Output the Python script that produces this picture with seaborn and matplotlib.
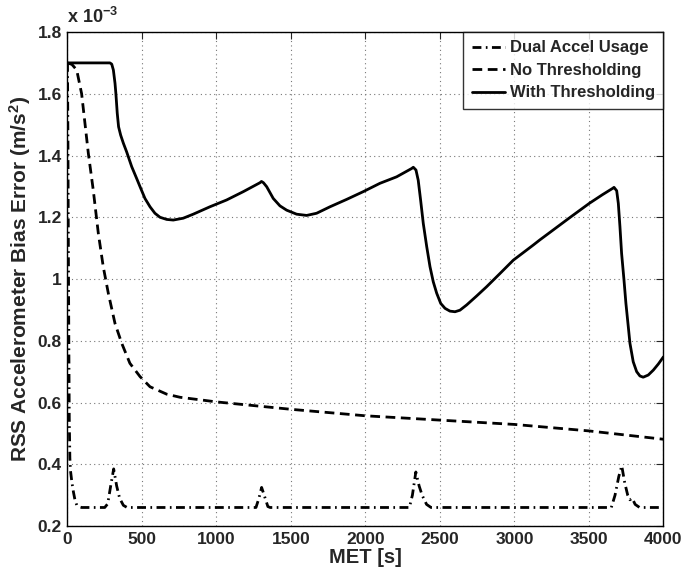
import matplotlib
matplotlib.use("Agg")
import matplotlib.pyplot as plt
import seaborn as sns

# ---- data (values in units of 1e-3 m/s^2) ----
t_dual = [0, 3, 6, 9, 12, 16, 20, 30, 40, 50, 62, 80, 95, 250, 270, 290, 310, 330, 350, 375, 400,
          1265, 1285, 1303, 1320, 1345, 1360,
          2295, 2315, 2338, 2360, 2380, 2410, 2440,
          3650, 3675, 3700, 3720, 3740, 3760, 3775, 3790, 3810, 3840, 4000]
v_dual = [1.70, 1.45, 1.10, 0.80, 0.55, 0.42, 0.38, 0.34, 0.31, 0.285, 0.268, 0.262, 0.26, 0.26, 0.272, 0.33, 0.385, 0.33, 0.29, 0.267, 0.26,
          0.26, 0.29, 0.325, 0.30, 0.263, 0.26,
          0.26, 0.30, 0.375, 0.33, 0.30, 0.27, 0.26,
          0.26, 0.30, 0.36, 0.395, 0.34, 0.30, 0.285, 0.29, 0.27, 0.26, 0.26]

t_noth = [0, 30, 62, 95, 140, 173, 207, 240, 274, 319, 364, 419, 487, 554, 666, 755,
          1000, 1500, 2000, 2500, 3000, 3500, 4000]
v_noth = [1.70, 1.695, 1.677, 1.60, 1.407, 1.288, 1.148, 1.04, 0.954, 0.856, 0.792, 0.727, 0.684, 0.651, 0.627, 0.617,
          0.602, 0.578, 0.557, 0.543, 0.529, 0.508, 0.481]

t_with = [0, 285, 297, 308, 319, 325, 334, 343, 357, 375, 397, 431, 464, 487, 520, 554, 587, 621, 666,
          710, 777, 844, 956, 1068, 1180, 1292, 1302, 1315, 1337, 1381, 1426, 1471, 1538, 1605, 1672,
          1762, 1874, 1985, 2097, 2209, 2310, 2321, 2339, 2354, 2370, 2388, 2411, 2433, 2455, 2478,
          2505, 2534, 2567, 2601, 2634, 2679, 2746, 2813, 2903, 2992, 3126, 3171, 3238, 3366, 3502,
          3590, 3660, 3668, 3686, 3697, 3708, 3719, 3735, 3748, 3764, 3775, 3797, 3820, 3842, 3864, 3898,
          3932, 3966, 4000]
v_with = [1.70, 1.70, 1.696, 1.677, 1.634, 1.60, 1.537, 1.493, 1.466, 1.44, 1.412, 1.364, 1.326, 1.299, 1.261, 1.234, 1.213, 1.20, 1.193,
          1.191, 1.197, 1.21, 1.234, 1.256, 1.283, 1.312, 1.316, 1.312, 1.299, 1.261, 1.237, 1.223, 1.21, 1.206, 1.213,
          1.234, 1.258, 1.283, 1.31, 1.331, 1.358, 1.362, 1.353, 1.32, 1.256, 1.18, 1.105, 1.04, 0.991, 0.954,
          0.921, 0.905, 0.896, 0.894, 0.899, 0.916, 0.945, 0.975, 1.018, 1.061, 1.11, 1.127, 1.151, 1.197, 1.245,
          1.273, 1.294, 1.297, 1.286, 1.245, 1.169, 1.083, 0.997, 0.921, 0.845, 0.792, 0.732, 0.70, 0.686, 0.682, 0.689,
          0.705, 0.725, 0.748]

series_names = ["Dual Accel Usage", "No Thresholding", "With Thresholding"]
x_ticks = [0, 500, 1000, 1500, 2000, 2500, 3000, 3500, 4000]
y_ticks = [0.2, 0.4, 0.6, 0.8, 1.0, 1.2, 1.4, 1.6, 1.8]
y_tick_labels = ["0.2", "0.4", "0.6", "0.8", "1", "1.2", "1.4", "1.6", "1.8"]

sns.set_style("white")
plt.rcParams["font.family"] = ["Liberation Sans", "DejaVu Sans"]
plt.rcParams["font.weight"] = "bold"
plt.rcParams["mathtext.fontset"] = "custom"
plt.rcParams["mathtext.rm"] = "Liberation Sans:bold"
plt.rcParams["mathtext.it"] = "Liberation Sans:bold"
plt.rcParams["mathtext.bf"] = "Liberation Sans:bold"

fig = plt.figure(figsize=(6.83, 5.72), dpi=100)
ax = fig.add_axes([0.0988, 0.0804, 0.8726, 0.8636])

lw = 2.0
sns.lineplot(x=t_dual, y=v_dual, ax=ax, color="black", lw=lw,
             linestyle=(0, (3.2, 1.6, 0.6, 1.6)), label=series_names[0])
sns.lineplot(x=t_noth, y=v_noth, ax=ax, color="black", lw=lw,
             linestyle=(0, (3.5, 2.0)), label=series_names[1])
sns.lineplot(x=t_with, y=v_with, ax=ax, color="black", lw=lw,
             linestyle="-", label=series_names[2])

ax.set_xlim(0, 4000)
ax.set_ylim(0.2, 1.8)
ax.set_xticks(x_ticks)
ax.set_xticklabels([str(v) for v in x_ticks])
ax.set_yticks(y_ticks)
ax.set_yticklabels(y_tick_labels)
ax.tick_params(axis="both", direction="in", length=5, width=0.8, labelsize=12.5,
               top=True, right=True, pad=4)
for lab in ax.get_xticklabels() + ax.get_yticklabels():
    lab.set_fontweight("bold")
for sp in ax.spines.values():
    sp.set_color("black")
    sp.set_linewidth(1.0)

ax.grid(True, color="#777777", linestyle=(0, (1, 3)), linewidth=0.8)
ax.set_axisbelow(True)

ax.set_xlabel("MET [s]", fontsize=14.5, fontweight="bold", labelpad=1)
ax.set_ylabel(r"RSS Accelerometer Bias Error (m/s$^2$)", fontsize=15, fontweight="bold", labelpad=3)

ax.text(0.0, 1.01, r"x 10$^{-3}$", transform=ax.transAxes, fontsize=13,
        fontweight="bold", ha="left", va="bottom")

leg = ax.legend(loc="upper right", frameon=True, fancybox=False, fontsize=12,
                handlelength=2.0, handletextpad=0.3, borderpad=0.5, labelspacing=0.45,
                borderaxespad=0.0)
leg.get_frame().set_edgecolor("black")
leg.get_frame().set_linewidth(1.0)
for txt in leg.get_texts():
    txt.set_fontweight("bold")

fig.savefig("out.png", dpi=100)
